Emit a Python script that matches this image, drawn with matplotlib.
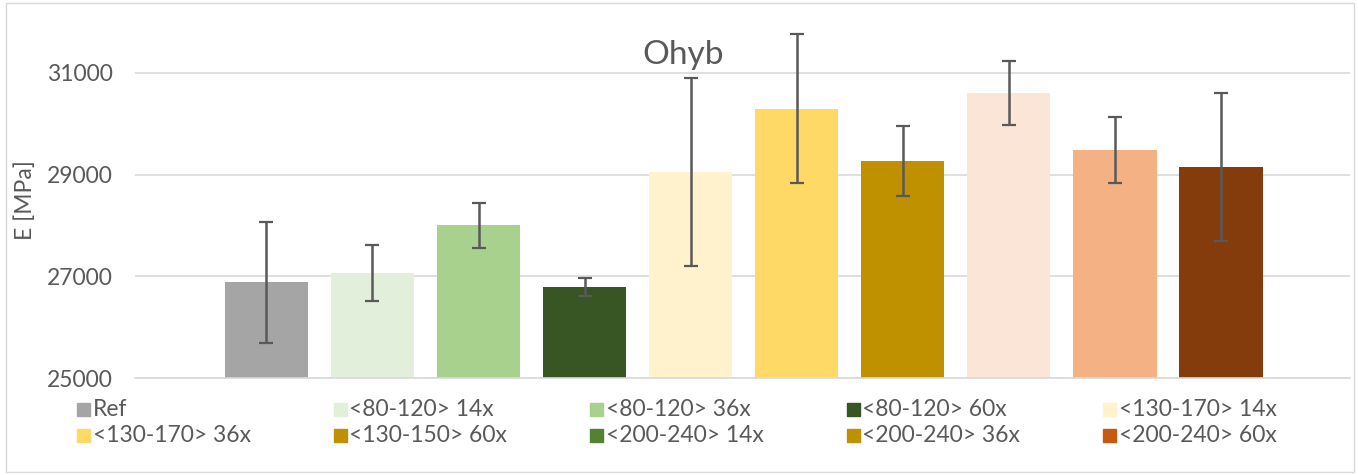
import matplotlib.pyplot as plt
from matplotlib.patches import Rectangle

plt.rcParams['font.family'] = ['Lato', 'DejaVu Sans']

# bar data (E modulus, MPa) and standard deviations
groups = ["Ref", "<80-120> 14x", "<80-120> 36x", "<80-120> 60x", "<130-170> 14x",
          "<130-170> 36x", "<130-150> 60x", "<200-240> 14x", "<200-240> 36x", "<200-240> 60x"]
means = [26880, 27065, 28005, 26790, 29052, 30290, 29265, 30605, 29485, 29150]
errors = [1190, 545, 445, 170, 1843, 1465, 689, 626, 655, 1460]
bar_colors = ["#A5A5A5", "#E2EFDA", "#A9D18E", "#375623", "#FFF2CC",
              "#FFD966", "#BF9000", "#FBE5D6", "#F4B183", "#843C0C"]

# legend as shown in the source (its colours do not all match the bars)
legend_labels = groups
legend_colors = ["#A5A5A5", "#E2EFDA", "#A9D18E", "#375623", "#FFF2CC",
                 "#FFD966", "#BF9000", "#548235", "#BF9000", "#C55A11"]

W, H = 1358, 475
fig = plt.figure(figsize=(W / 100, H / 100), dpi=100)
ax = fig.add_axes([135 / W, 1 - 378 / H, (1350 - 135) / W, (378 - 22) / H])

x = list(range(len(groups)))
ax.bar(x, [m - 25000 for m in means], bottom=25000, width=0.79, color=bar_colors, zorder=2)
ax.errorbar(x, means, yerr=errors, fmt="none", ecolor="#595959", elinewidth=1.8,
            capsize=5, capthick=1.6, zorder=3)

ax.set_ylim(25000, 32000)
ax.set_xlim(-1.24, 10.22)
ax.set_yticks([25000, 27000, 29000, 31000])
ax.yaxis.grid(True, color="#D9D9D9", linewidth=1.2, zorder=0)
ax.set_xticks([])
for side in ["top", "right", "left"]:
    ax.spines[side].set_visible(False)
ax.spines["bottom"].set_color("#D9D9D9")
ax.spines["bottom"].set_linewidth(1.2)
ax.tick_params(axis="y", length=0, labelsize=16.5, labelcolor="#595959", pad=16)
ax.set_ylabel("E [MPa]", fontsize=16.5, color="#595959", labelpad=8)

fig.text(683 / W, 1 - 55 / H, "Ohyb", fontsize=24, color="#595959", ha="center", va="center")

# manual legend: 5 columns, 2 rows
for i, (lab, col) in enumerate(zip(legend_labels, legend_colors)):
    c, r = i % 5, i // 5
    px = 77 + c * 256.5
    py = 409 + r * 26
    fig.add_artist(Rectangle((px / W, 1 - (py + 6.5) / H), 13 / W, 13 / H,
                             transform=fig.transFigure, color=col))
    fig.text((px + 16) / W, 1 - py / H, lab, fontsize=16.5, color="#595959",
             ha="left", va="center")

# chart border
fig.add_artist(Rectangle((6 / W, 3 / H), (1354 - 6) / W, (472 - 3) / H, transform=fig.transFigure,
                         fill=False, edgecolor="#D9D9D9", linewidth=1))

fig.savefig("out.png", dpi=100)
